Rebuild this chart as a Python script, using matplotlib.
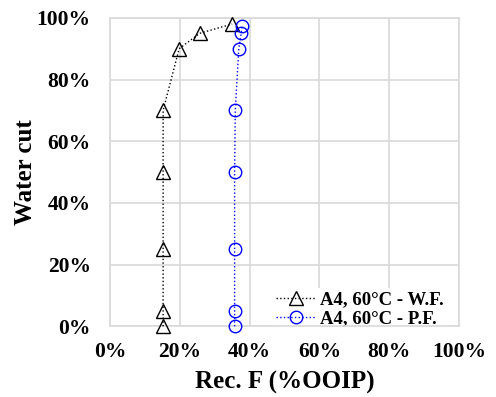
import matplotlib
matplotlib.use("Agg")
import matplotlib.pyplot as plt
from matplotlib.ticker import PercentFormatter

# Water flooding (W.F.) and polymer flooding (P.F.) at 60°C, sample A4
wf_rec = [15.2, 15.2, 15.2, 15.2, 15.2, 19.8, 25.7, 35.0]
wf_wc = [0, 5, 25, 50, 70, 90, 95, 98]
pf_rec = [35.7, 35.7, 35.7, 35.7, 35.9, 36.9, 37.6, 37.9]
pf_wc = [0, 5, 25, 50, 70, 90, 95, 97.5]

plt.rcParams["font.family"] = ["Liberation Serif", "DejaVu Serif"]
plt.rcParams["font.weight"] = "bold"

fig, ax = plt.subplots(figsize=(4.96, 3.97), dpi=100)
fig.subplots_adjust(left=0.222, right=0.925, top=0.955, bottom=0.178)

ax.plot(wf_rec, wf_wc, color="black", linestyle=":", linewidth=1.0,
        marker="^", markersize=10, markerfacecolor="none", markeredgecolor="black",
        markeredgewidth=1.0, label="A4, 60°C - W.F.", clip_on=False, zorder=3)
ax.plot(pf_rec, pf_wc, color="blue", linestyle=":", linewidth=1.0,
        marker="o", markersize=9, markerfacecolor="none", markeredgecolor="blue",
        markeredgewidth=1.0, label="A4, 60°C - P.F.", clip_on=False, zorder=3)

ax.set_xlim(0, 100)
ax.set_ylim(0, 100)
ax.set_xticks([0, 20, 40, 60, 80, 100])
ax.set_yticks([0, 20, 40, 60, 80, 100])
ax.xaxis.set_major_formatter(PercentFormatter(decimals=0))
ax.yaxis.set_major_formatter(PercentFormatter(decimals=0))
ax.tick_params(length=0, labelsize=15.5)
ax.tick_params(axis="x", pad=11)
ax.tick_params(axis="y", pad=14)
for lab in ax.get_xticklabels() + ax.get_yticklabels():
    lab.set_fontweight("bold")

ax.grid(True, color="#d9d9d9", linewidth=1.2)
ax.set_axisbelow(True)
for sp in ax.spines.values():
    sp.set_color("#d9d9d9")
    sp.set_linewidth(1.2)

ax.set_xlabel("Rec. F (%OOIP)", fontsize=18, fontweight="bold", labelpad=7)
ax.set_ylabel("Water cut", fontsize=18, fontweight="bold", labelpad=0)

leg = ax.legend(loc="lower right", bbox_to_anchor=(0.966, -0.012), fontsize=13.5,
                frameon=True, fancybox=False, handlelength=2.1, handletextpad=0.27,
                borderpad=0.15, labelspacing=0.1, borderaxespad=0, framealpha=1)
leg.get_frame().set_edgecolor("white")
leg.get_frame().set_linewidth(0)
leg.set_zorder(2)
for t in leg.get_texts():
    t.set_fontweight("bold")

fig.savefig("out.png", dpi=100)
